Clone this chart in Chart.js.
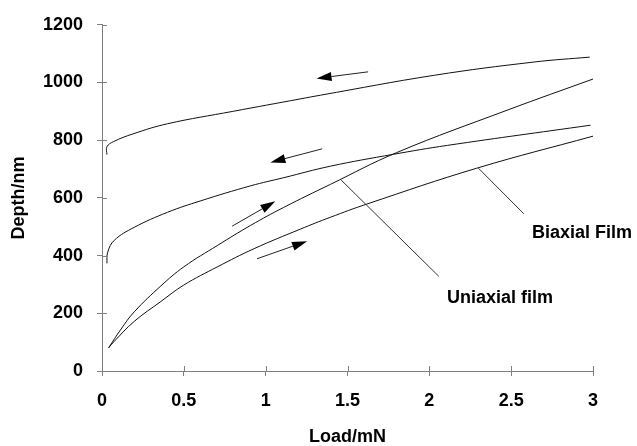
<!DOCTYPE html>
<html>
<head>
<meta charset="utf-8">
<script src="https://cdn.jsdelivr.net/npm/chart.js@4"></script>
<style>
  html, body { margin: 0; padding: 0; background: #fff; }
  #wrap { width: 637px; height: 446px; }
</style>
</head>
<body>
<div id="wrap"><canvas id="chart" width="637" height="446"></canvas></div>
<script>
// load / depth readings (Load in mN, Depth in nm)
const uniLoadX   = [0.04, 0.116, 0.197, 0.36, 0.50, 0.705, 0.909, 1.11, 1.396, 1.80, 2.48, 3.00];
const uniLoadY   = [80,   145,   205,   295,  361,  435,   505,   567,  647,   757,  905,  1012];
const uniUnloadX = [2.98, 2.64, 2.03, 1.335, 1.21, 0.80, 0.40, 0.19, 0.07, 0.03, 0.03];
const uniUnloadY = [1088, 1071, 1025, 956,   943,  900,  857,  822,  795,  777,  750];
const biLoadX    = [0.04, 0.075, 0.197, 0.36, 0.50, 0.705, 0.929, 1.213, 1.396, 1.62, 2.29, 3.00];
const biLoadY    = [80,   103,   172,   241,  298,  361,   424,   492,   533,   579,  703,  814];
const biUnloadX  = [2.985, 2.11, 1.78, 1.396, 1.11, 0.909, 0.604, 0.40, 0.197, 0.075, 0.035, 0.03];
const biUnloadY  = [852,   782,  751,  710,   670,  642,   590,   550,  498,   453,   412,   373];

const xTicks = [0, 0.5, 1, 1.5, 2, 2.5, 3];
const yTicks = [0, 200, 400, 600, 800, 1000, 1200];

// arrows: [tailX, tailY, tipX, tipY]
const arrows = [
  [1.626, 1037, 1.311, 1014],
  [1.345, 770, 1.029, 723],
  [0.795, 502, 1.059, 588],
  [0.947, 389, 1.253, 450]
];
// labels with leader lines
const labels = [
  { text: "Uniaxial film", from: [1.461, 662], to: [2.058, 328], at: [2.108, 254] },
  { text: "Biaxial Film",  from: [2.30, 703],  to: [2.577, 545], at: [2.627, 477] }
];

const FONT = "'Liberation Sans', Arial, sans-serif";
const AXIS_GREY = "#808080";

function pts(xs, ys) {
  return xs.map((x, i) => ({ x, y: ys[i] }));
}

function curve(xs, ys) {
  return {
    data: pts(xs, ys),
    showLine: true,
    borderColor: "#111",
    borderWidth: 1,
    pointRadius: 0,
    tension: 0.4,
    fill: false
  };
}

// draws the arrows, leader lines, labels and the inner half of the tick marks
const annotate = {
  id: "annotate",
  afterDatasetsDraw(chart) {
    const { ctx, scales: { x, y } } = chart;
    ctx.save();

    // arrows
    arrows.forEach(a => {
      const x0 = x.getPixelForValue(a[0]), y0 = y.getPixelForValue(a[1]);
      const x1 = x.getPixelForValue(a[2]), y1 = y.getPixelForValue(a[3]);
      const ang = Math.atan2(y1 - y0, x1 - x0);
      const len = 15, half = 4.5;
      const bx = x1 - len * Math.cos(ang), by = y1 - len * Math.sin(ang);
      ctx.strokeStyle = "#222";
      ctx.lineWidth = 1;
      ctx.beginPath();
      ctx.moveTo(x0, y0);
      ctx.lineTo(bx, by);
      ctx.stroke();
      ctx.fillStyle = "#000";
      ctx.beginPath();
      ctx.moveTo(x1, y1);
      ctx.lineTo(bx + half * Math.sin(ang), by - half * Math.cos(ang));
      ctx.lineTo(bx - half * Math.sin(ang), by + half * Math.cos(ang));
      ctx.closePath();
      ctx.fill();
    });

    // leader lines + text
    labels.forEach(l => {
      ctx.strokeStyle = "#333";
      ctx.lineWidth = 1;
      ctx.beginPath();
      ctx.moveTo(x.getPixelForValue(l.from[0]), y.getPixelForValue(l.from[1]));
      ctx.lineTo(x.getPixelForValue(l.to[0]), y.getPixelForValue(l.to[1]));
      ctx.stroke();
      ctx.fillStyle = "#000";
      ctx.font = "bold 18px " + FONT;
      ctx.textAlign = "left";
      ctx.textBaseline = "middle";
      ctx.fillText(l.text, x.getPixelForValue(l.at[0]), y.getPixelForValue(l.at[1]));
    });

    // inner part of crossing ticks
    ctx.strokeStyle = AXIS_GREY;
    ctx.lineWidth = 1;
    ctx.beginPath();
    yTicks.forEach(v => {
      const py = Math.round(y.getPixelForValue(v)) + 0.5;
      ctx.moveTo(x.left, py);
      ctx.lineTo(x.left + 5, py);
    });
    xTicks.forEach(v => {
      const px = Math.round(x.getPixelForValue(v)) + 0.5;
      ctx.moveTo(px, y.bottom);
      ctx.lineTo(px, y.bottom - 5);
    });
    ctx.stroke();
    ctx.restore();
  }
};

new Chart(document.getElementById("chart"), {
  type: "scatter",
  data: {
    datasets: [
      curve(uniLoadX, uniLoadY),
      curve(uniUnloadX, uniUnloadY),
      curve(biLoadX, biLoadY),
      curve(biUnloadX, biUnloadY)
    ]
  },
  options: {
    responsive: false,
    animation: false,
    layout: { padding: { top: 21, right: 44, bottom: 0, left: 0 } },
    plugins: {
      legend: { display: false },
      tooltip: { enabled: false }
    },
    scales: {
      x: {
        type: "linear",
        min: 0,
        max: 3,
        afterBuildTicks: s => { s.ticks = xTicks.map(v => ({ value: v })); },
        afterFit: s => { s.height = 75; },
        grid: { drawOnChartArea: false, tickLength: 5, color: AXIS_GREY },
        border: { color: AXIS_GREY, width: 1 },
        ticks: {
          color: "#000",
          padding: 14,
          maxRotation: 0,
          callback: v => String(v),
          font: { family: FONT, size: 18, weight: "bold" }
        },
        title: {
          display: true,
          text: "Load/mN",
          color: "#000",
          padding: 0,
          font: { family: FONT, size: 18, weight: "bold", lineHeight: 1 }
        }
      },
      y: {
        type: "linear",
        min: 0,
        max: 1200,
        afterBuildTicks: s => { s.ticks = yTicks.map(v => ({ value: v })); },
        afterFit: s => { s.width = 102; },
        grid: { drawOnChartArea: false, tickLength: 5, color: AXIS_GREY },
        border: { color: AXIS_GREY, width: 1 },
        ticks: {
          color: "#000",
          padding: 14,
          callback: v => String(v),
          font: { family: FONT, size: 18, weight: "bold" }
        },
        title: {
          display: true,
          text: "Depth/nm",
          color: "#000",
          padding: { top: 8, bottom: 0 },
          font: { family: FONT, size: 18, weight: "bold", lineHeight: 1.2 }
        }
      }
    }
  },
  plugins: [annotate]
});
</script>
</body>
</html>
